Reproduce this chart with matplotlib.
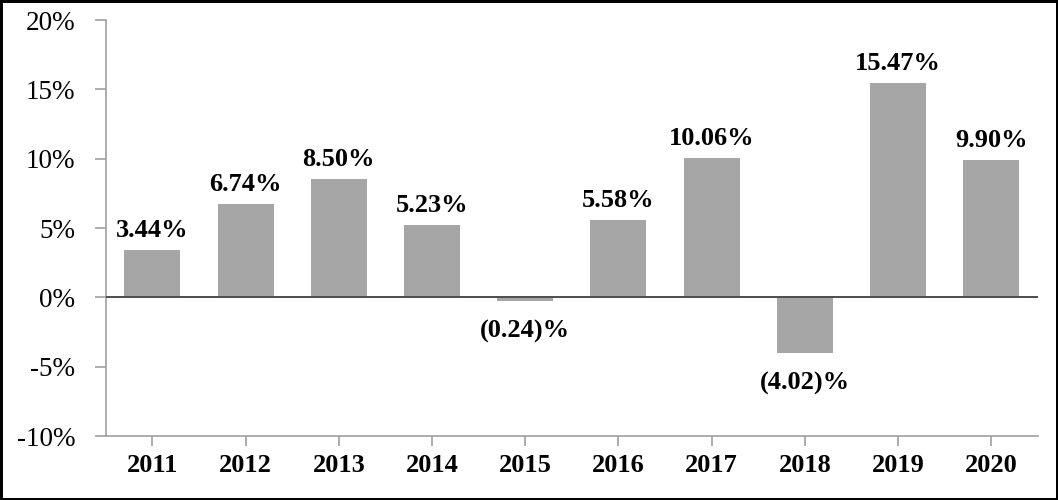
import matplotlib
matplotlib.use("Agg")
import matplotlib.pyplot as plt
from matplotlib.ticker import FuncFormatter

years = ["2011", "2012", "2013", "2014", "2015", "2016", "2017", "2018", "2019", "2020"]
returns = [3.44, 6.74, 8.50, 5.23, -0.24, 5.58, 10.06, -4.02, 15.47, 9.90]
labels = ["3.44%", "6.74%", "8.50%", "5.23%", "(0.24)%", "5.58%", "10.06%", "(4.02)%", "15.47%", "9.90%"]

plt.rcParams["font.family"] = ["Liberation Serif", "DejaVu Serif"]

fig = plt.figure(figsize=(10.58, 5.0), dpi=100)
fig.patch.set_edgecolor("black")
fig.patch.set_linewidth(3.5)
ax = fig.add_axes([0.100, 0.128, 0.881, 0.832])

x = range(len(years))
bars = ax.bar(x, returns, width=0.6, color="#a6a6a6", zorder=2)

# zero line
ax.axhline(0, color="#4d4d4d", linewidth=1.4, zorder=3)

for b, v, lab in zip(bars, returns, labels):
    cx = b.get_x() + b.get_width() / 2
    dy = 13 if v >= 0 else -37
    ax.annotate(lab, (cx, v), xytext=(0, dy), textcoords="offset pixels",
                ha="center", va="baseline", fontsize=19, fontweight="bold")

ax.set_ylim(-10, 20)
ax.set_yticks(range(-10, 21, 5))
ax.yaxis.set_major_formatter(FuncFormatter(lambda v, p: f"{v:.0f}%"))
ax.set_xlim(-0.5, len(years) - 0.5)
ax.set_xticks(list(x))
ax.set_xticklabels(years, fontweight="bold")

for side in ["top", "right"]:
    ax.spines[side].set_visible(False)
for side in ["left", "bottom"]:
    ax.spines[side].set_color("#a0a0a0")
    ax.spines[side].set_linewidth(1.2)

ax.tick_params(axis="y", colors="#a0a0a0", labelcolor="black", labelsize=19.5, length=8, width=1.2, pad=14)
ax.tick_params(axis="x", colors="#a0a0a0", labelcolor="black", labelsize=19, length=7, width=1.2, pad=6)

fig.savefig("out.png", dpi=100, edgecolor=fig.get_edgecolor())
